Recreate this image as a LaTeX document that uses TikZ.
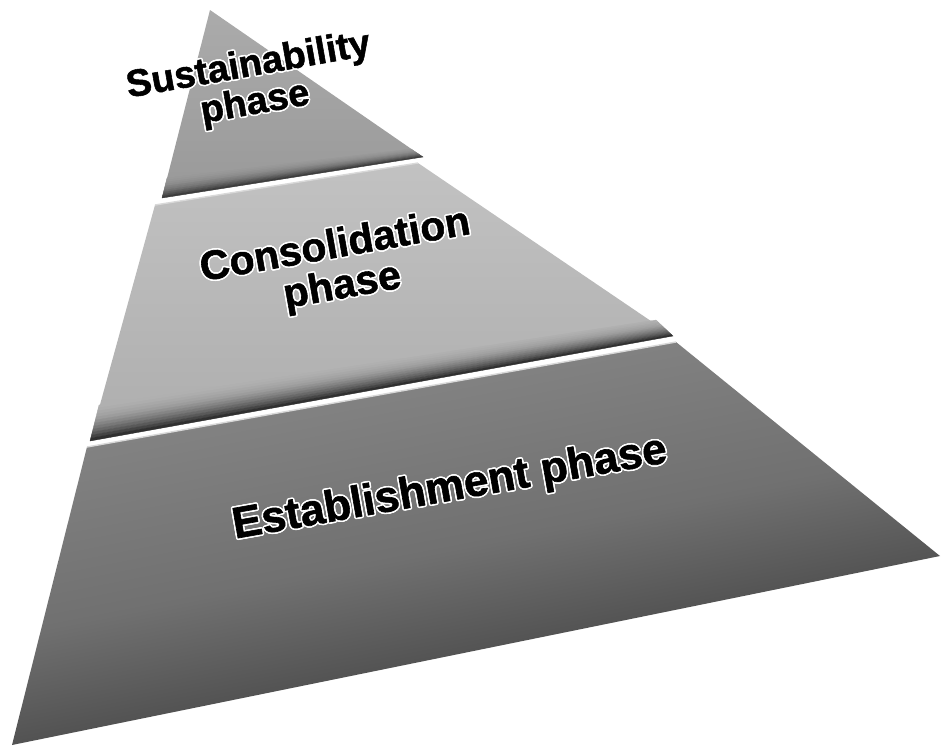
\documentclass[tikz,border=0pt]{standalone}
\usepackage{fontspec}
\setmainfont{Liberation Sans}
\newfontfamily\phasefont{Liberation Sans Bold}[FakeBold=1.4]
\usepackage{contour}
\contourlength{1.6pt}
\contournumber{12}
\newcommand{\halo}[1]{\contour{white}{#1}}
\usetikzlibrary{calc}

\begin{document}
\begin{tikzpicture}[x=1pt, y=-1pt,
  seam/.style={draw=white!85!black, line width=1.4pt},
  phase/.style={font=\phasefont\fontsize{38}{38}\selectfont, align=center, rotate=10, inner sep=0pt}]
\useasboundingbox (0,0) rectangle (942,747);

% slab corners
\coordinate (apex) at (210,10);
\coordinate (s-r) at (423,157);
\coordinate (s-l) at (162,198);
\coordinate (ss-r) at (411,149);
\coordinate (ss-l) at (167,178);
\coordinate (c-tl) at (155,205);
\coordinate (c-tr) at (418,163);
\coordinate (c-br) at (673,336);
\coordinate (c-bl) at (90,441);
\coordinate (cs-r) at (656,320);
\coordinate (cs-l) at (99,405);
\coordinate (e-tl) at (87,447);
\coordinate (e-tr) at (676,342);
\coordinate (e-br) at (940,556);
\coordinate (e-bl) at (12,745);

% establishment slab
\shade[top color=black!46, bottom color=black!82, middle color=black!56, shading angle=11]
  (e-tl) -- (e-tr) -- (e-br) -- (e-bl) -- cycle;
% consolidation slab, darker towards its lower edge
\shade[top color=black!24, bottom color=black!32] (c-tl) -- (c-tr) -- (c-br) -- (c-bl) -- cycle;
\foreach \i in {0,...,11} {
  \pgfmathsetmacro\ta{\i/12}
  \pgfmathsetmacro\tb{(\i+1)/12}
  \pgfmathsetmacro\tone{int(31+50*\tb*\tb)}
  \filldraw[black!\tone, line width=0.3pt]
    ($(cs-l)!\ta!(c-bl)$) -- ($(cs-r)!\ta!(c-br)$) -- ($(cs-r)!\tb!(c-br)$) -- ($(cs-l)!\tb!(c-bl)$) -- cycle;
}
% sustainability slab
\shade[top color=black!33, bottom color=black!40] (apex) -- (s-r) -- (s-l) -- cycle;
\foreach \i in {0,...,9} {
  \pgfmathsetmacro\ta{\i/10}
  \pgfmathsetmacro\tb{(\i+1)/10}
  \pgfmathsetmacro\tone{int(40+36*\tb*\tb)}
  \filldraw[black!\tone, line width=0.3pt]
    ($(ss-l)!\ta!(s-l)$) -- ($(ss-r)!\ta!(s-r)$) -- ($(ss-r)!\tb!(s-r)$) -- ($(ss-l)!\tb!(s-l)$) -- cycle;
}

\draw[seam] (c-tl) -- (c-tr);
\draw[seam] (e-tl) -- (e-tr);

\node[phase] (sust) at (252,86) {\halo{Sustainability}\\\halo{phase}};
\node[phase, font=\phasefont\fontsize{41}{41}\selectfont] (cons) at (339,268) {\halo{Consolidation}\\\halo{phase}};
\node[phase, font=\phasefont\fontsize{44}{44}\selectfont] (est) at (450,490) {\halo{Establishment phase}};
\end{tikzpicture}
\end{document}
